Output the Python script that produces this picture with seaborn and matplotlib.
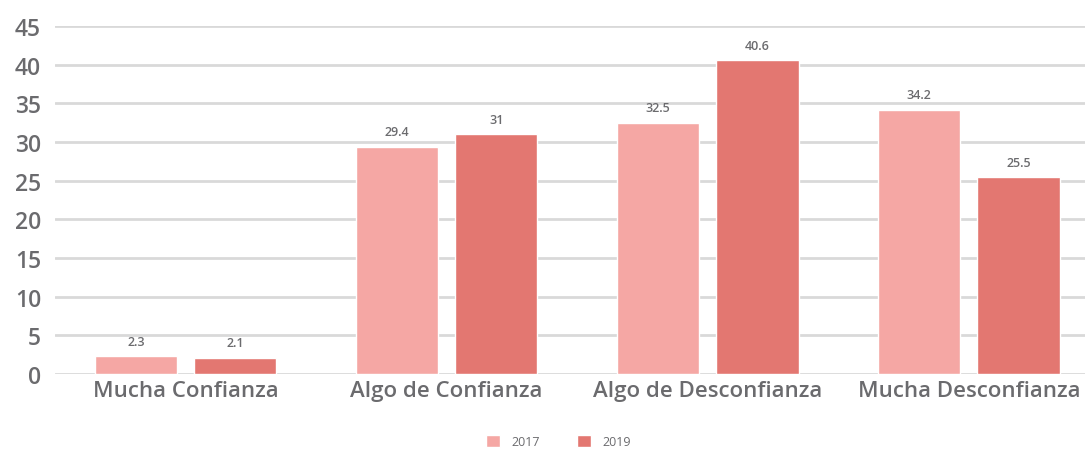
import matplotlib

matplotlib.use("Agg")
import matplotlib.pyplot as plt
import pandas as pd
import seaborn as sns

categories = ["Mucha Confianza", "Algo de Confianza", "Algo de Desconfianza", "Mucha Desconfianza"]
years = ["2017", "2019"]
values_2017 = [2.3, 29.4, 32.5, 34.2]
values_2019 = [2.1, 31, 40.6, 25.5]
value_labels_2017 = ["2.3", "29.4", "32.5", "34.2"]
value_labels_2019 = ["2.1", "31", "40.6", "25.5"]
colors = ["#F5A7A4", "#E37771"]
text_color = "#6b6b6e"

df = pd.DataFrame({
    "categoria": categories * 2,
    "anio": [years[0]] * 4 + [years[1]] * 4,
    "valor": values_2017 + values_2019,
})

sns.set_style("white")
plt.rcParams["font.family"] = ["Open Sans", "DejaVu Sans"]

fig = plt.figure(figsize=(10.85, 4.52), dpi=100)
ax = fig.add_axes([0.0507, 0.1704, 0.9493, 0.7696])

sns.barplot(data=df, x="categoria", y="valor", hue="anio", palette=colors,
            width=0.76, gap=0.17, ax=ax, legend=True, saturation=1)

for container, labels in zip(ax.containers, [value_labels_2017, value_labels_2019]):
    ax.bar_label(container, labels=labels, padding=6, fontsize=9, color=text_color,
                 fontweight="semibold")

ax.set_ylim(0, 45)
ax.set_xlim(-0.5, 3.445)
ax.set_yticks(range(0, 46, 5))
ax.yaxis.grid(True, color="#d9d9d9", linewidth=2)
ax.set_axisbelow(True)
for s in ax.spines.values():
    s.set_visible(False)
ax.tick_params(axis="y", labelsize=16.5, colors=text_color, length=0, pad=10)
ax.tick_params(axis="x", labelsize=16, colors=text_color, length=0, pad=4)
for lab in ax.get_xticklabels() + ax.get_yticklabels():
    lab.set_fontweight("semibold")
ax.set_xlabel("")
ax.set_ylabel("")

leg = ax.legend(loc="lower center", bbox_to_anchor=(0.489, -0.245), ncol=2, frameon=False,
                fontsize=9, handlelength=1.1, handleheight=1.1, columnspacing=3.0,
                handletextpad=0.9)
for t in leg.get_texts():
    t.set_color(text_color)

fig.savefig("out.png", dpi=100)
